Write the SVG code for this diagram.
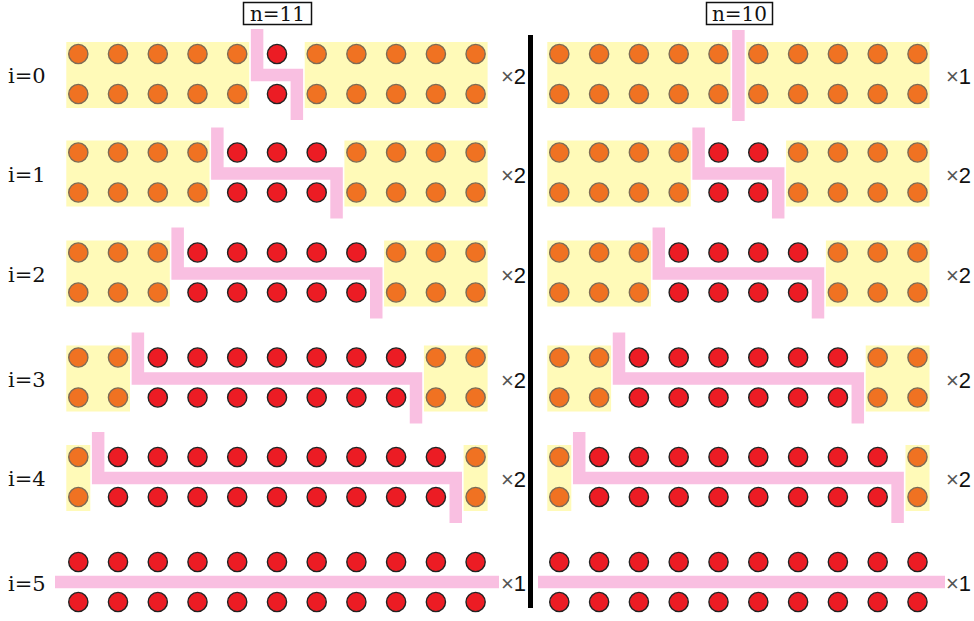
<svg xmlns="http://www.w3.org/2000/svg" xmlns:xlink="http://www.w3.org/1999/xlink" width="974" height="621" viewBox="0 0 974 621">
<style>
.yb{fill:#fffab8;}
.o{fill:#f07222;stroke:#7d6b55;stroke-width:1.4;}
.r{fill:#ec1c24;stroke:#222;stroke-width:1.4;}
.pk{fill:none;stroke:#f9bfe1;stroke-width:12.5;stroke-linejoin:miter;stroke-linecap:butt;}
.lab{font-family:"DejaVu Serif","Liberation Serif",serif;font-size:21px;fill:#111;}
.hd{font-family:"DejaVu Serif","Liberation Serif",serif;font-size:20px;fill:#111;text-anchor:middle;}
.mul{font-family:"Liberation Sans",Arial,sans-serif;font-size:22px;fill:#111;}
.x{fill:#555;}
.box{fill:#fff;stroke:#111;stroke-width:1.5;}
</style>
<defs>
<g id="po"><circle class="o" cx="0" cy="0" r="9.6"/><circle class="o" cx="0" cy="40" r="9.6"/></g>
<g id="pr"><circle class="r" cx="0" cy="0" r="9.6"/><circle class="r" cx="0" cy="40" r="9.6"/></g>
</defs>

<g id="headers">
<rect class="box" x="243.5" y="2.5" width="68" height="22"/>
<text class="hd" x="277.5" y="21">n=11</text>
<rect class="box" x="706.5" y="2.5" width="66" height="22"/>
<text class="hd" x="739.5" y="21">n=10</text>
</g>

<g id="row-labels">
<text class="lab" x="8" y="83">i=0</text>
<text class="lab" x="8" y="181.5">i=1</text>
<text class="lab" x="8" y="281.5">i=2</text>
<text class="lab" x="8" y="386.5">i=3</text>
<text class="lab" x="8" y="486">i=4</text>
<text class="lab" x="8" y="591">i=5</text>
</g>

<g id="yellow">
<rect class="yb" x="66.3" y="42" width="182.9" height="66"/>
<rect class="yb" x="304.7" y="42" width="182.9" height="66"/>
<rect class="yb" x="66.3" y="140.5" width="143.2" height="66"/>
<rect class="yb" x="344.4" y="140.5" width="143.2" height="66"/>
<rect class="yb" x="66.3" y="240.5" width="103.5" height="66"/>
<rect class="yb" x="384.1" y="240.5" width="103.5" height="66"/>
<rect class="yb" x="66.3" y="345.5" width="63.7" height="66"/>
<rect class="yb" x="423.9" y="345.5" width="63.7" height="66"/>
<rect class="yb" x="66.3" y="445" width="24" height="66"/>
<rect class="yb" x="463.6" y="445" width="24" height="66"/>

<rect class="yb" x="547.3" y="42" width="183.2" height="66"/>
<rect class="yb" x="746.3" y="42" width="183.2" height="66"/>
<rect class="yb" x="547.3" y="140.5" width="143.4" height="66"/>
<rect class="yb" x="786.1" y="140.5" width="143.4" height="66"/>
<rect class="yb" x="547.3" y="240.5" width="103.6" height="66"/>
<rect class="yb" x="825.9" y="240.5" width="103.6" height="66"/>
<rect class="yb" x="547.3" y="345.5" width="63.8" height="66"/>
<rect class="yb" x="865.7" y="345.5" width="63.8" height="66"/>
<rect class="yb" x="547.3" y="445" width="24" height="66"/>
<rect class="yb" x="905.5" y="445" width="24" height="66"/>
</g>

<g id="left-panel">
<g id="L0">
<use href="#po" x="78.3" y="54"/><use href="#po" x="118" y="54"/><use href="#po" x="157.8" y="54"/><use href="#po" x="197.5" y="54"/><use href="#po" x="237.2" y="54"/>
<use href="#pr" x="277" y="54"/>
<use href="#po" x="316.7" y="54"/><use href="#po" x="356.4" y="54"/><use href="#po" x="396.1" y="54"/><use href="#po" x="435.9" y="54"/><use href="#po" x="475.6" y="54"/>
</g>
<g id="L1">
<use href="#po" x="78.3" y="152.5"/><use href="#po" x="118" y="152.5"/><use href="#po" x="157.8" y="152.5"/><use href="#po" x="197.5" y="152.5"/>
<use href="#pr" x="237.2" y="152.5"/><use href="#pr" x="277" y="152.5"/><use href="#pr" x="316.7" y="152.5"/>
<use href="#po" x="356.4" y="152.5"/><use href="#po" x="396.1" y="152.5"/><use href="#po" x="435.9" y="152.5"/><use href="#po" x="475.6" y="152.5"/>
</g>
<g id="L2">
<use href="#po" x="78.3" y="252.5"/><use href="#po" x="118" y="252.5"/><use href="#po" x="157.8" y="252.5"/>
<use href="#pr" x="197.5" y="252.5"/><use href="#pr" x="237.2" y="252.5"/><use href="#pr" x="277" y="252.5"/><use href="#pr" x="316.7" y="252.5"/><use href="#pr" x="356.4" y="252.5"/>
<use href="#po" x="396.1" y="252.5"/><use href="#po" x="435.9" y="252.5"/><use href="#po" x="475.6" y="252.5"/>
</g>
<g id="L3">
<use href="#po" x="78.3" y="357.5"/><use href="#po" x="118" y="357.5"/>
<use href="#pr" x="157.8" y="357.5"/><use href="#pr" x="197.5" y="357.5"/><use href="#pr" x="237.2" y="357.5"/><use href="#pr" x="277" y="357.5"/><use href="#pr" x="316.7" y="357.5"/><use href="#pr" x="356.4" y="357.5"/><use href="#pr" x="396.1" y="357.5"/>
<use href="#po" x="435.9" y="357.5"/><use href="#po" x="475.6" y="357.5"/>
</g>
<g id="L4">
<use href="#po" x="78.3" y="457"/>
<use href="#pr" x="118" y="457"/><use href="#pr" x="157.8" y="457"/><use href="#pr" x="197.5" y="457"/><use href="#pr" x="237.2" y="457"/><use href="#pr" x="277" y="457"/><use href="#pr" x="316.7" y="457"/><use href="#pr" x="356.4" y="457"/><use href="#pr" x="396.1" y="457"/><use href="#pr" x="435.9" y="457"/>
<use href="#po" x="475.6" y="457"/>
</g>
<g id="L5">
<use href="#pr" x="78.3" y="562"/><use href="#pr" x="118" y="562"/><use href="#pr" x="157.8" y="562"/><use href="#pr" x="197.5" y="562"/><use href="#pr" x="237.2" y="562"/><use href="#pr" x="277" y="562"/><use href="#pr" x="316.7" y="562"/><use href="#pr" x="356.4" y="562"/><use href="#pr" x="396.1" y="562"/><use href="#pr" x="435.9" y="562"/><use href="#pr" x="475.6" y="562"/>
</g>
</g>

<g id="right-panel">
<g id="R0">
<use href="#po" x="559.3" y="54"/><use href="#po" x="599.1" y="54"/><use href="#po" x="638.9" y="54"/><use href="#po" x="678.7" y="54"/><use href="#po" x="718.5" y="54"/>
<use href="#po" x="758.3" y="54"/><use href="#po" x="798.1" y="54"/><use href="#po" x="837.9" y="54"/><use href="#po" x="877.7" y="54"/><use href="#po" x="917.5" y="54"/>
</g>
<g id="R1">
<use href="#po" x="559.3" y="152.5"/><use href="#po" x="599.1" y="152.5"/><use href="#po" x="638.9" y="152.5"/><use href="#po" x="678.7" y="152.5"/>
<use href="#pr" x="718.5" y="152.5"/><use href="#pr" x="758.3" y="152.5"/>
<use href="#po" x="798.1" y="152.5"/><use href="#po" x="837.9" y="152.5"/><use href="#po" x="877.7" y="152.5"/><use href="#po" x="917.5" y="152.5"/>
</g>
<g id="R2">
<use href="#po" x="559.3" y="252.5"/><use href="#po" x="599.1" y="252.5"/><use href="#po" x="638.9" y="252.5"/>
<use href="#pr" x="678.7" y="252.5"/><use href="#pr" x="718.5" y="252.5"/><use href="#pr" x="758.3" y="252.5"/><use href="#pr" x="798.1" y="252.5"/>
<use href="#po" x="837.9" y="252.5"/><use href="#po" x="877.7" y="252.5"/><use href="#po" x="917.5" y="252.5"/>
</g>
<g id="R3">
<use href="#po" x="559.3" y="357.5"/><use href="#po" x="599.1" y="357.5"/>
<use href="#pr" x="638.9" y="357.5"/><use href="#pr" x="678.7" y="357.5"/><use href="#pr" x="718.5" y="357.5"/><use href="#pr" x="758.3" y="357.5"/><use href="#pr" x="798.1" y="357.5"/><use href="#pr" x="837.9" y="357.5"/>
<use href="#po" x="877.7" y="357.5"/><use href="#po" x="917.5" y="357.5"/>
</g>
<g id="R4">
<use href="#po" x="559.3" y="457"/>
<use href="#pr" x="599.1" y="457"/><use href="#pr" x="638.9" y="457"/><use href="#pr" x="678.7" y="457"/><use href="#pr" x="718.5" y="457"/><use href="#pr" x="758.3" y="457"/><use href="#pr" x="798.1" y="457"/><use href="#pr" x="837.9" y="457"/><use href="#pr" x="877.7" y="457"/>
<use href="#po" x="917.5" y="457"/>
</g>
<g id="R5">
<use href="#pr" x="559.3" y="562"/><use href="#pr" x="599.1" y="562"/><use href="#pr" x="638.9" y="562"/><use href="#pr" x="678.7" y="562"/><use href="#pr" x="718.5" y="562"/><use href="#pr" x="758.3" y="562"/><use href="#pr" x="798.1" y="562"/><use href="#pr" x="837.9" y="562"/><use href="#pr" x="877.7" y="562"/><use href="#pr" x="917.5" y="562"/>
</g>
</g>

<g id="connectors">
<path class="pk" d="M257.1 29 V75 H296.85 V120"/>
<path class="pk" d="M217.35 127.5 V173.5 H336.55 V218.5"/>
<path class="pk" d="M177.65 227.5 V273.5 H376.25 V318.5"/>
<path class="pk" d="M137.9 332.5 V378.5 H416 V423.5"/>
<path class="pk" d="M98.15 432 V478 H455.75 V523"/>
<path class="pk" d="M55 582 H499"/>
<path class="pk" d="M738.4 30 V121"/>
<path class="pk" d="M698.6 127.5 V173.5 H778.2 V218.5"/>
<path class="pk" d="M658.8 227.5 V273.5 H818 V318.5"/>
<path class="pk" d="M619 332.5 V378.5 H857.8 V423.5"/>
<path class="pk" d="M579.2 432 V478 H897.6 V523"/>
<path class="pk" d="M538 582 H945"/>
<line x1="530.5" y1="35" x2="530.5" y2="608" stroke="#000" stroke-width="5"/>
</g>

<g id="multipliers">
<text class="mul" x="501" y="84"><tspan class="x">×</tspan>2</text>
<text class="mul" x="501" y="182.5"><tspan class="x">×</tspan>2</text>
<text class="mul" x="501" y="282.5"><tspan class="x">×</tspan>2</text>
<text class="mul" x="501" y="387.5"><tspan class="x">×</tspan>2</text>
<text class="mul" x="501" y="487"><tspan class="x">×</tspan>2</text>
<text class="mul" x="501" y="591"><tspan class="x">×</tspan>1</text>
<text class="mul" x="946" y="84"><tspan class="x">×</tspan>1</text>
<text class="mul" x="946" y="182.5"><tspan class="x">×</tspan>2</text>
<text class="mul" x="946" y="282.5"><tspan class="x">×</tspan>2</text>
<text class="mul" x="946" y="387.5"><tspan class="x">×</tspan>2</text>
<text class="mul" x="946" y="487"><tspan class="x">×</tspan>2</text>
<text class="mul" x="946" y="591"><tspan class="x">×</tspan>1</text>
</g>
</svg>
